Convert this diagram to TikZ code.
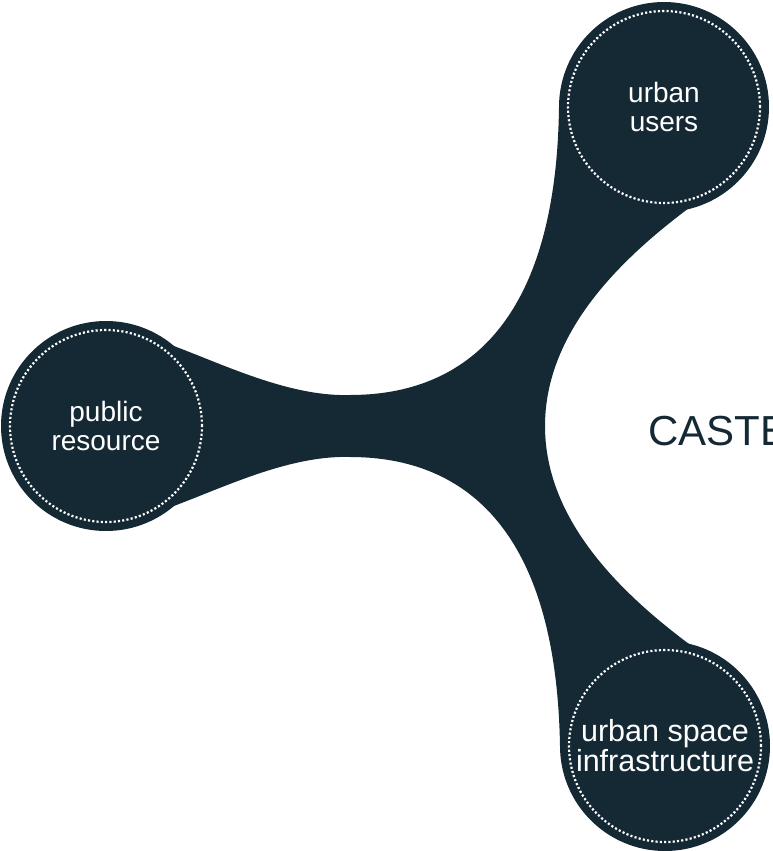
\documentclass[tikz,border=0pt]{standalone}
\usepackage{fontspec}
\setmainfont{Liberation Sans}
\usepackage{tikz}
\definecolor{ink}{HTML}{152935}

\begin{document}
\begin{tikzpicture}[x=1pt,y=-1pt,
  hub/.style={circle,fill=ink,minimum size=210pt,inner sep=0pt,
    text=white,align=center,font=\fontsize{28}{29}\selectfont},
  ring/.style={draw=white,line width=2.2pt,dash pattern=on 2.1pt off 2.2pt}]
  \useasboundingbox (0,0) rectangle (772,851);

  % the three-armed body
  \fill[ink] (160,341) .. controls (215,360) and (285,397) .. (350,395)
    .. controls (450,395) and (556,340) .. (559,107)
    -- (745,169) .. controls (660,225) and (545,310) .. (545,426)
    .. controls (545,542) and (660,627) .. (745,683)
    -- (560,746) .. controls (556,512) and (450,457) .. (350,457)
    .. controls (285,455) and (215,492) .. (160,511) -- cycle;

  \node[hub] (users) at (664,107) {urban\\users};
  \node[hub] (public) at (106,426) {public\\resource};
  \node[hub,font=\fontsize{30.5}{30}\selectfont] (space) at (665,746) {urban space\\infrastructure};

  \draw[ring] (users) circle (96pt);
  \draw[ring] (public) circle (96pt);
  \draw[ring] (space) circle (96pt);

  \node[anchor=base west,text=ink,inner sep=0pt,
    font=\fontsize{42}{50}\selectfont] (title) at (648,445) {CASTE};
\end{tikzpicture}
\end{document}
